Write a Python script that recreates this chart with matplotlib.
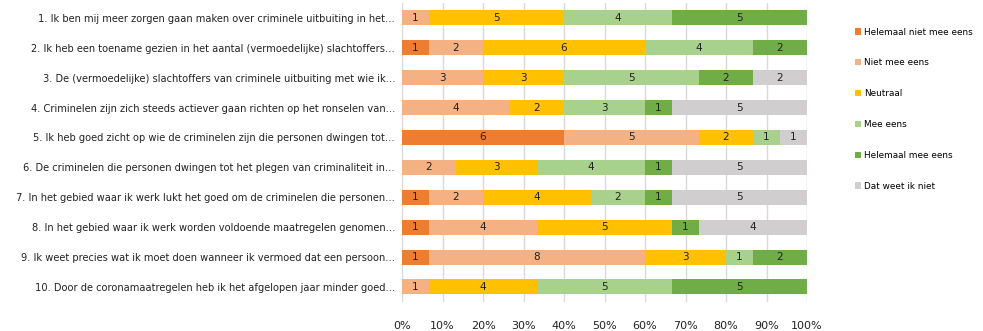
import matplotlib
matplotlib.use("Agg")
import matplotlib.pyplot as plt
import numpy as np

categories = [
    "1. Ik ben mij meer zorgen gaan maken over criminele uitbuiting in het…",
    "2. Ik heb een toename gezien in het aantal (vermoedelijke) slachtoffers…",
    "3. De (vermoedelijke) slachtoffers van criminele uitbuiting met wie ik…",
    "4. Criminelen zijn zich steeds actiever gaan richten op het ronselen van…",
    "5. Ik heb goed zicht op wie de criminelen zijn die personen dwingen tot…",
    "6. De criminelen die personen dwingen tot het plegen van criminaliteit in…",
    "7. In het gebied waar ik werk lukt het goed om de criminelen die personen…",
    "8. In het gebied waar ik werk worden voldoende maatregelen genomen…",
    "9. Ik weet precies wat ik moet doen wanneer ik vermoed dat een persoon…",
    "10. Door de coronamaatregelen heb ik het afgelopen jaar minder goed…",
]
series_names = ["Helemaal niet mee eens", "Niet mee eens", "Neutraal",
                "Mee eens", "Helemaal mee eens", "Dat weet ik niet"]
helemaal_niet = [0, 1, 0, 0, 6, 0, 1, 1, 1, 0]
niet_mee = [1, 2, 3, 4, 5, 2, 2, 4, 8, 1]
neutraal = [5, 6, 3, 2, 2, 3, 4, 5, 3, 4]
mee_eens = [4, 4, 5, 3, 1, 4, 2, 0, 1, 5]
helemaal_mee = [5, 2, 2, 1, 0, 1, 1, 1, 2, 5]
weet_niet = [0, 0, 2, 5, 1, 5, 5, 4, 0, 0]
colors = ["#ED7D31", "#F4B183", "#FFC000", "#A9D18E", "#70AD47", "#D0CECE"]
xticks = [0, 10, 20, 30, 40, 50, 60, 70, 80, 90, 100]

data = np.array([helemaal_niet, niet_mee, neutraal, mee_eens, helemaal_mee, weet_niet], dtype=float)
totals = data.sum(axis=0)
pct = data / totals * 100

fig = plt.figure(figsize=(9.83, 3.31), dpi=100)
ax = fig.add_axes([0.409, 0.088, 0.412, 0.903])
y = np.arange(len(categories))
left = np.zeros(len(categories))
for i, name in enumerate(series_names):
    bars = ax.barh(y, pct[i], left=left, height=0.5, color=colors[i], label=name, zorder=3)
    for j, b in enumerate(bars):
        if data[i, j] > 0:
            ax.text(left[j] + pct[i, j] / 2, y[j], f"{int(data[i, j])}", ha="center", va="center",
                    fontsize=7.5, color="#222222", zorder=4)
    left += pct[i]

ax.set_xlim(0, 100)
ax.set_ylim(len(categories) - 0.5, -0.5)
ax.set_yticks(y)
ax.set_yticklabels(categories, fontsize=7.1, color="#222222")
ax.set_xticks(xticks)
ax.set_xticklabels([f"{t}%" for t in xticks], fontsize=8, color="#222222")
ax.tick_params(axis="both", length=0)
ax.tick_params(axis="x", pad=14)
ax.tick_params(axis="y", pad=5)
for s in ax.spines.values():
    s.set_visible(False)
ax.grid(axis="x", color="#D9D9D9", linewidth=1, zorder=0)
ax.set_axisbelow(True)

fig.legend(loc="upper left", bbox_to_anchor=(0.866, 0.927), frameon=False,
           fontsize=6.4, handlelength=0.7, handleheight=0.7, handletextpad=0.35,
           labelspacing=2.45, borderaxespad=0)

fig.savefig("out.png", dpi=100)
